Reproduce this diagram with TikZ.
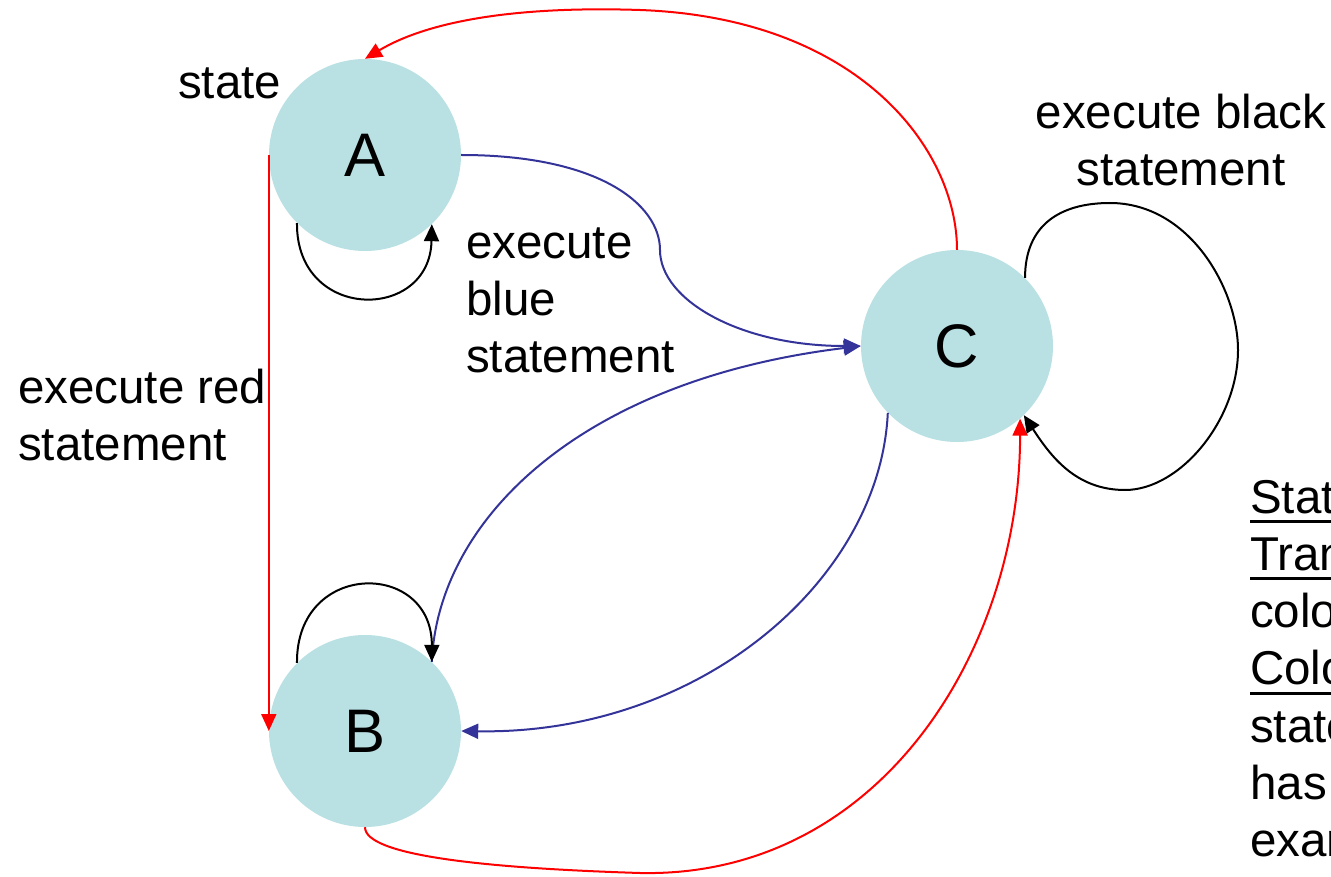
\documentclass[tikz,border=0pt]{standalone}
\usepackage{fontspec}
\setmainfont{Liberation Sans}
\usetikzlibrary{arrows.meta}

\definecolor{statefill}{RGB}{185,224,227}
\definecolor{edgeblue}{RGB}{51,51,153}
\definecolor{edgered}{RGB}{255,0,0}

% underline drawn as a rule a fixed distance under the baseline
\newcommand\ulword[1]{\setbox0\hbox{#1}\rlap{\rule[-10pt]{\wd0}{3pt}}\box0}

\begin{document}
\begin{tikzpicture}[x=1pt,y=-1pt,
  stnode/.style={circle, fill=statefill, minimum size=192pt, inner sep=0pt,
                 font=\fontsize{61.5}{61.5}\selectfont},
  lbl/.style={inner sep=0pt, font=\fontsize{47.5}{57.3}\selectfont},
  tip/.style={-{Triangle[length=17pt,width=15pt]}},
  rededge/.style={tip, draw=edgered, line width=2pt},
  blueedge/.style={tip, draw=edgeblue, line width=2pt},
  loopedge/.style={tip, draw=black, line width=2pt}]

\clip (0,0) rectangle (1331,877);

% states
\node[stnode] (A) at (365,155) {A};
\node[stnode] (B) at (365,731) {B};
\node[stnode] (C) at (957,346) {C};

% labels (base anchor of a multi-line node sits on its last line)
\node[lbl, anchor=base west] (lstate) at (178,99) {state};
\node[lbl, anchor=base west, align=left] (lblue) at (466,372.6) {execute\\blue\\statement};
\node[lbl, anchor=base west, align=left] (lred) at (18,460.5) {execute red\\statement};
\node[lbl, anchor=base, align=center] (lblack) at (1181,186) {execute black\\statement};
\node[lbl, anchor=base west, align=left] (legend) at (1250,856.8)
  {\ulword{State}\\\ulword{Transition}\\color\\\ulword{Color}\\state\\has\\example};

% red transitions
\draw[rededge] (A.west) -- (B.west);
\draw[rededge] (C.north) .. controls (957,150) and (860,18) .. (640,10)
  .. controls (520,6) and (430,20) .. (A.north);
\draw[rededge] (B.south) .. controls (365,855) and (480,868) .. (640,873)
  .. controls (880,878) and (1020,650) .. (C.-49);

% blue transitions
\draw[blueedge] (A.east) .. controls (600,155) and (660,205) .. (660,250)
  .. controls (660,300) and (740,346) .. (C.west);
\draw[blueedge] (B.46) .. controls (438,520) and (580,380) .. (C.west);
\draw[blueedge] (C.224) .. controls (880,580) and (700,735) .. (B.east);

% black self-loops
\draw[loopedge] (A.-135) .. controls (296,322) and (430,322) .. (A.-46);
\draw[loopedge] (B.135) .. controls (296,560) and (432,560) .. (B.46);
\draw[loopedge] (C.45) .. controls (1025,225) and (1060,203) .. (1110,203)
  .. controls (1190,203) and (1238,290) .. (1238,350)
  .. controls (1238,420) and (1180,490) .. (1125,490)
  .. controls (1075,490) and (1050,455) .. (C.-46);
\end{tikzpicture}
\end{document}
